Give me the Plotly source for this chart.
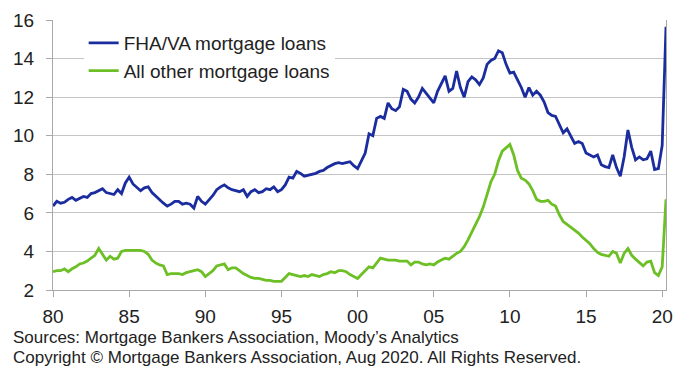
import plotly.graph_objects as go

# Quarterly data, 1980Q1 .. 2020Q2 (percent of loans)
start_year = 1980
fha_va = [
    6.35, 6.6, 6.5, 6.55,   6.7, 6.8, 6.65, 6.75,   6.85, 6.8, 7.0, 7.05,
    7.15, 7.25, 7.05, 7.0,  6.95, 7.2, 7.0, 7.55,   7.85, 7.5, 7.3, 7.15,
    7.3, 7.35, 7.05, 6.85,  6.7, 6.5, 6.35, 6.45,   6.6, 6.6, 6.45, 6.5,
    6.45, 6.25, 6.85, 6.6,  6.45, 6.65, 6.9, 7.2,   7.35, 7.45, 7.3, 7.2,
    7.15, 7.1, 7.2, 6.85,   7.1, 7.2, 7.05, 7.1,    7.25, 7.2, 7.35, 7.1,
    7.2, 7.45, 7.85, 7.8,   8.15, 8.05, 7.9, 7.95,  8.0, 8.05, 8.15, 8.2,
    8.35, 8.45, 8.55, 8.6,  8.55, 8.6, 8.65, 8.45,  8.3, 8.7, 9.1, 10.1,
    10.0, 10.9, 11.0, 10.9, 11.7, 11.4, 11.3, 11.5, 12.4, 12.3, 11.9, 11.7,
    12.0, 12.45, 12.2, 11.9, 11.7, 12.3, 12.7, 13.1, 12.3, 12.45, 13.35, 12.5,
    12.0, 12.8, 13.05, 12.9, 12.65, 13.0, 13.7, 13.9, 14.0, 14.4, 14.3, 13.7,
    13.25, 13.3, 12.9, 12.5, 12.0, 12.5, 12.1, 12.3, 12.1, 11.75, 11.2, 11.05,
    11.0, 10.6, 10.15, 10.35, 10.0, 9.6, 9.7, 9.6,  9.1, 9.0, 8.9, 9.0,
    8.5, 8.4, 8.35, 9.0,    8.35, 7.9, 8.9, 10.3,   9.4, 8.75, 8.9, 8.75,
    8.8, 9.2, 8.25, 8.3,    9.5, 15.65,
]
all_other = [
    2.95, 3.0, 3.0, 3.1,    2.95, 3.1, 3.2, 3.35,   3.4, 3.5, 3.65, 3.8,
    4.15, 3.85, 3.55, 3.75, 3.6, 3.65, 4.0, 4.05,   4.05, 4.05, 4.05, 4.05,
    4.0, 3.85, 3.55, 3.4,   3.3, 3.25, 2.8, 2.85,   2.85, 2.85, 2.8, 2.9,
    2.95, 3.0, 3.05, 2.95,  2.7, 2.85, 3.0, 3.25,   3.3, 3.35, 3.05, 3.15,
    3.15, 3.0, 2.85, 2.75,  2.65, 2.6, 2.6, 2.55,   2.5, 2.5, 2.45, 2.45,
    2.45, 2.65, 2.85, 2.8,  2.75, 2.7, 2.75, 2.7,   2.8, 2.75, 2.7, 2.8,
    2.85, 2.95, 2.9, 3.0,   3.0, 2.95, 2.8, 2.7,    2.6, 2.8, 3.0, 3.2,
    3.15, 3.4, 3.65, 3.6,   3.55, 3.55, 3.55, 3.5,  3.5, 3.5, 3.3, 3.45,
    3.45, 3.35, 3.3, 3.35,  3.3, 3.45, 3.55, 3.65,  3.6, 3.75, 3.9, 4.0,
    4.25, 4.6, 5.0, 5.4,    5.8, 6.3, 6.9, 7.6,     8.0, 8.7, 9.2, 9.4,
    9.55, 9.0, 8.2, 7.8,    7.7, 7.5, 7.15, 6.7,    6.6, 6.6, 6.65, 6.45,
    6.35, 5.9, 5.55, 5.4,   5.25, 5.1, 4.95, 4.75,  4.6, 4.4, 4.15, 3.95,
    3.85, 3.8, 3.75, 4.0,   3.9, 3.4, 3.9, 4.15,    3.8, 3.6, 3.4, 3.25,
    3.45, 3.5, 2.9, 2.75,   3.2, 6.7,
]
series_names = ["FHA/VA mortgage loans", "All other mortgage loans"]
tick_years = [1980, 1985, 1990, 1995, 2000, 2005, 2010, 2015, 2020]
tick_labels = ["80", "85", "90", "95", "00", "05", "10", "15", "20"]
y_ticks = [2, 4, 6, 8, 10, 12, 14, 16]
source_text = "Sources: Mortgage Bankers Association, Moody\u2019s Analytics"
copyright_text = "Copyright \u00a9 Mortgage Bankers Association, Aug 2020. All Rights Reserved."

# quarter positions as decimal years
x = [start_year + i / 4 for i in range(len(fha_va))]

BLUE = "#1B2D9E"
GREEN = "#6CBF24"
GRID = "#C4C4C4"
AXIS = "#A8A8A8"
FONT = "Liberation Sans, Arial, sans-serif"

fig = go.Figure()
fig.add_trace(go.Scatter(x=x, y=fha_va, mode="lines", name=series_names[0],
                         line=dict(color=BLUE, width=2.8)))
fig.add_trace(go.Scatter(x=x, y=all_other, mode="lines", name=series_names[1],
                         line=dict(color=GREEN, width=2.8)))

fig.update_layout(
    width=683, height=367,
    margin=dict(l=53, r=10, t=20, b=77),
    paper_bgcolor="white", plot_bgcolor="white",
    font=dict(family=FONT, size=19, color="#222222"),
    showlegend=True,
    legend=dict(x=0.05, y=0.985, xanchor="left", yanchor="top",
                bgcolor="white", borderwidth=0,
                font=dict(family=FONT, size=19, color="#222222")),
    annotations=[
        dict(text=source_text, xref="paper", yref="paper", x=-0.069, y=-0.176,
             xanchor="left", yanchor="middle", showarrow=False,
             font=dict(family=FONT, size=17, color="#222222")),
        dict(text=copyright_text, xref="paper", yref="paper", x=-0.069, y=-0.25,
             xanchor="left", yanchor="middle", showarrow=False,
             font=dict(family=FONT, size=17, color="#222222")),
    ],
)
fig.update_xaxes(
    range=[1980, 2020.25], tickvals=tick_years, ticktext=tick_labels,
    showgrid=False, zeroline=False,
    showline=True, linecolor=AXIS, linewidth=1.3,
    ticks="outside", ticklen=6, tickcolor=AXIS, tickwidth=1.3,
    ticklabelstandoff=3,
)
fig.update_yaxes(
    range=[2, 16], tickvals=y_ticks,
    showgrid=True, gridcolor=GRID, gridwidth=1.3, zeroline=False,
    showline=True, linecolor=AXIS, linewidth=1.3, mirror=True,
    ticks="outside", ticklen=6, tickcolor=AXIS, tickwidth=1.3,
    ticklabelstandoff=8,
)

fig.write_html("out.html")
